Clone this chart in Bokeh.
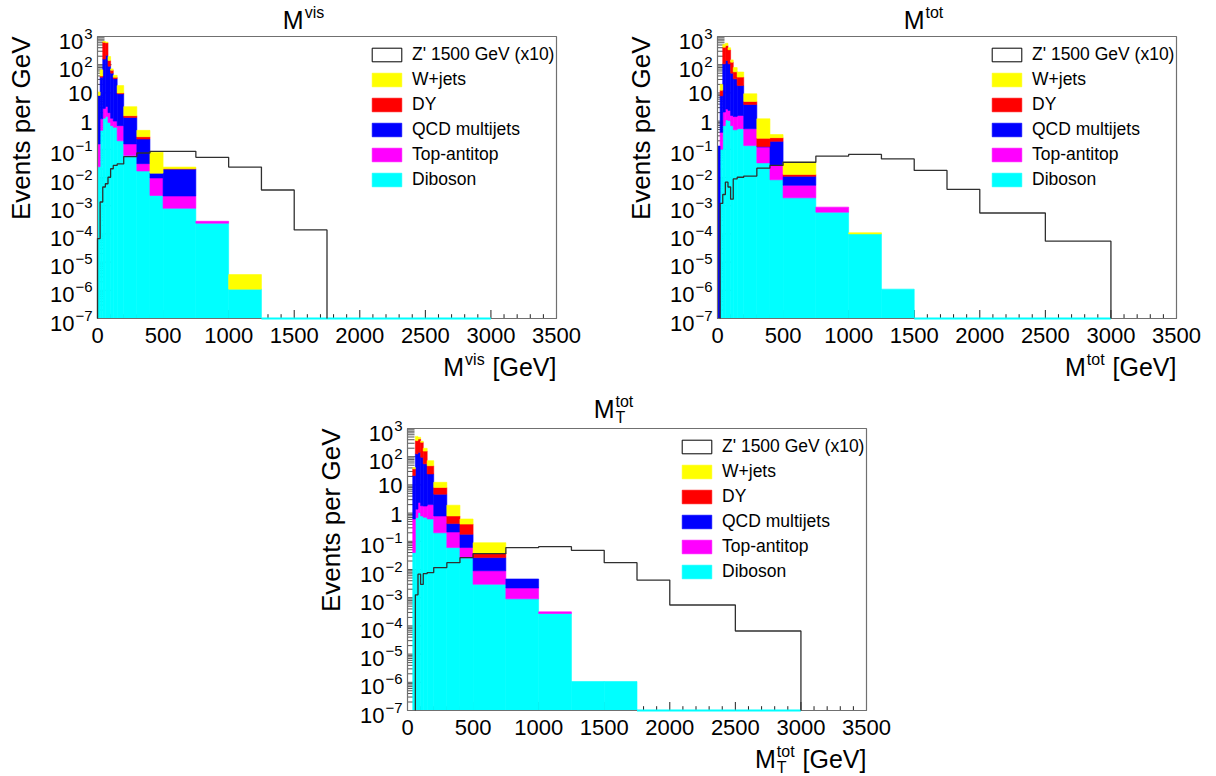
import numpy as np
from math import pi
from bokeh.plotting import figure
from bokeh.models import Range1d, Label, Legend, LegendItem, Spacer
from bokeh.layouts import column, row
from bokeh.embed import file_html
from bokeh.resources import INLINE

# ---------------- data (events per GeV) ----------------
edges = [0, 20, 40, 60, 80, 100, 120, 150, 200, 300, 400, 500, 750, 1000,
         1250, 1500, 1750, 2000, 2500, 3000]
x_ticks = [0, 500, 1000, 1500, 2000, 2500, 3000, 3500]
y_decades = [-7, -6, -5, -4, -3, -2, -1, 0, 1, 2, 3]
legend_labels = ["Z' 1500 GeV (x10)", "W+jets", "DY", "QCD multijets", "Top-antitop", "Diboson"]

# M^vis
mvis_diboson = [0.024, 0.47, 1.26, 1.45, 0.89, 0.69, 0.60, 0.20, 0.060, 0.017, 0.0023, 0.00081, 0.00024, 1.1e-6, 0, 0, 0, 0, 0]
mvis_top     = [0.13, 0.73, 1.56, 1.86, 1.1, 0.57, 0.40, 0.49, 0.095, 0.014, 0.0073, 0.0014, 0.00004, 0, 0, 0, 0, 0, 0]
mvis_qcd     = [8.0, 35, 155, 211, 87, 49, 31, 8.6, 1.2, 0.20, 0.0046, 0.018, 0, 0, 0, 0, 0, 0, 0]
mvis_dy      = [0, 3.5, 473, 389, 52, 13, 3.9, 0.67, 0.20, 0.048, 0, 0.0002, 0, 0, 0, 0, 0, 0, 0]
mvis_wjets   = [2.6, 26, 30, 28, 54, 7.8, 6.2, 8.2, 1.7, 0.19, 0.065, 0.003, 0, 2.5e-6, 0, 0, 0, 0, 0]
mvis_zprime  = [6.8e-5, 1.35e-3, 4.6e-3, 6.0e-3, 0.0102, 0.0204, 0.0269, 0.0302, 0.055, 0.074, 0.085, 0.085, 0.052, 0.0234, 0.0036, 0.000138, 0, 0, 0]

# M^tot
mtot_diboson = [0, 0.10, 0.69, 1.10, 1.05, 0.69, 0.49, 0.54, 0.135, 0.033, 0.0083, 0.0019, 0.00059, 0.0001, 1.1e-6, 0, 0, 0, 0]
mtot_top     = [0, 0.30, 1.4, 1.59, 1.35, 0.89, 0.96, 1.04, 0.40, 0.087, 0.019, 0.0034, 0.0003, 0, 0, 0, 0, 0, 0]
mtot_qcd     = [0.13, 7.5, 105, 138, 105, 48.5, 30, 16.6, 3.35, 0.006, 0.164, 0.0057, 0, 0, 0, 0, 0, 0, 0]
mtot_dy      = [0, 4.6, 310, 338, 232, 73, 24.6, 18.1, 1.12, 0.119, 0.067, 0.0019, 0, 0, 0, 0, 0, 0, 0]
mtot_wjets   = [0, 7.4, 108, 96, 59, 25, 23, 18.7, 4.3, 0.96, 0.074, 0.022, 0, 0.00001, 0, 0, 0, 0, 0]
mtot_zprime  = [0, 1.2e-3, 2.5e-3, 6.8e-3, 4.6e-3, 1.7e-3, 8.9e-3, 0.0102, 0.0112, 0.0214, 0.0269, 0.0347, 0.0575, 0.066, 0.0457, 0.0178, 0.0038, 0.00055, 0.000055]

# M_T^tot
mttot_diboson = [0, 0, 0.040, 0.69, 1.05, 0.79, 0.71, 0.62, 0.20, 0.060, 0.026, 0.0030, 0.00091, 0.000275, 1.07e-6, 1.07e-6, 0, 0, 0]
mttot_top     = [0, 0, 0.58, 0.69, 1.35, 1.03, 1.07, 1.38, 0.59, 0.154, 0.034, 0.006, 0.0013, 0.00004, 0, 0, 0, 0, 0]
mttot_qcd     = [0, 0, 20.8, 125, 142, 94, 54, 22.5, 3.9, 0.21, 0.118, 0.0174, 0.0024, 0, 0, 0, 0, 0, 0]
mttot_dy      = [0, 0, 15.8, 246, 282, 228, 102, 23.4, 3.45, 0.37, 0.23, 0.0117, 0, 0, 0, 0, 0, 0, 0]
mttot_wjets   = [0, 0, 4.5, 153, 63, 31, 41, 24.5, 4.2, 1.11, 0.21, 0.051, 0, 0, 0, 0, 0, 0, 0]
mttot_zprime  = [0, 0, 0, 1.26e-3, 6.8e-3, 2.95e-3, 7.1e-3, 7.8e-3, 0.0117, 0.0174, 0.0263, 0.0363, 0.060, 0.0646, 0.0479, 0.0174, 0.0042, 0.00055, 0.000066]

# ---------------- style ----------------
FONT = "Liberation Sans"
X_MIN, X_MAX = 0, 3500
Y_MIN, Y_MAX = 1e-7, 1e3
FRAME_W, FRAME_H = 459, 282
MID = 0.35  # distance from the alphabetic baseline up to the middle of the text box, in em
COL = {"wjets": "#ffff00", "dy": "#ff0000", "qcd": "#0000ff", "top": "#ff00ff", "diboson": "#00ffff"}
CW = {"M": 0.833, "v": 0.5, "i": 0.222, "s": 0.5, "t": 0.278, "o": 0.556, "T": 0.611, " ": 0.278,
      "[": 0.278, "]": 0.278, "G": 0.778, "e": 0.556, "V": 0.667, "\u2212": 0.584, "-": 0.333}


def text_w(s, size):
    return sum(CW.get(c, 0.556) for c in s) * size


def add_label(p, text, x, y, xo, yo, size, align="left", baseline="middle", angle=0.0):
    p.add_layout(Label(x=x, y=y, x_offset=xo, y_offset=yo, text=text, angle=angle,
                       text_font=FONT, text_font_size=f"{size}px", text_color="black",
                       text_align=align, text_baseline=baseline))


def compose(p, parts, x, y, xo, yo, align="left"):
    """parts: groups of (text, size, rise) laid out left to right; yo is the baseline offset."""
    widths = [max(text_w(t, s) for t, s, r in grp) for grp in parts]
    total = sum(widths) + 1.0 * (len(parts) - 1)
    cur = xo if align == "left" else (xo - total if align == "right" else xo - total / 2)
    for grp, w in zip(parts, widths):
        for t, s, r in grp:
            lead = len(t) - len(t.lstrip(" "))
            add_label(p, t.lstrip(" "), x, y, cur + text_w(" " * lead, s), yo + r + MID * s, s)
        cur += w + 1.0


def make_panel(width, height, left, top, series, zprime, title_parts, xtitle_parts, title_rise):
    right = width - left - FRAME_W
    bottom = height - top - FRAME_H
    gx = FRAME_W / (X_MAX - X_MIN)            # px per GeV
    dec = FRAME_H / np.log10(Y_MAX / Y_MIN)   # px per decade
    # the whole pad is the Bokeh frame; the ROOT frame is the [X_MIN,X_MAX]x[Y_MIN,Y_MAX] box in it
    xr = Range1d(X_MIN - left / gx, X_MAX + right / gx)
    yr = Range1d(Y_MIN / 10 ** (bottom / dec), Y_MAX * 10 ** (top / dec))
    p = figure(width=width, height=height, x_range=xr, y_range=yr, y_axis_type="log",
               x_axis_location=None, y_axis_location=None,
               output_backend="svg", toolbar_location=None, title=None, min_border=0)
    p.grid.visible = False
    p.outline_line_color = None
    p.background_fill_color = "white"
    p.border_fill_color = "white"

    # inward ticks (drawn first, hidden by the filled stack like in ROOT)
    xmaj = x_ticks
    xmin_t = [v for v in range(0, X_MAX + 1, 100) if v % 500]
    p.segment(x0=xmaj, y0=[Y_MIN] * len(xmaj), x1=xmaj, y1=[Y_MIN * 10 ** (8.5 / dec)] * len(xmaj),
              line_color="#222222", line_width=1)
    p.segment(x0=xmin_t, y0=[Y_MIN] * len(xmin_t), x1=xmin_t, y1=[Y_MIN * 10 ** (4.3 / dec)] * len(xmin_t),
              line_color="#222222", line_width=1)
    ymaj = [10.0 ** k for k in y_decades]
    ymin_t = [m * 10.0 ** k for k in y_decades[:-1] for m in range(2, 10)]
    p.segment(x0=[X_MIN] * len(ymaj), y0=ymaj, x1=[14 / gx] * len(ymaj), y1=ymaj, line_color="#555555", line_width=1)
    p.segment(x0=[X_MIN] * len(ymin_t), y0=ymin_t, x1=[7 / gx] * len(ymin_t), y1=ymin_t, line_color="#555555", line_width=1)

    lefts = np.array(edges[:-1], dtype=float)
    rights = np.array(edges[1:], dtype=float)
    cum = np.zeros(len(lefts))
    rends = {}
    for key in ["diboson", "top", "qcd", "dy", "wjets"]:
        vals = np.array(series[key], dtype=float)
        bot = cum.copy()
        tp = cum + vals
        m = vals > 0
        rends[key] = p.quad(left=lefts[m], right=rights[m], bottom=np.maximum(bot, Y_MIN)[m], top=tp[m],
                            fill_color=COL[key], line_color=COL[key], line_width=0.6)
        cum = tp

    # frame
    p.quad(left=[X_MIN], right=[X_MAX], bottom=[Y_MIN], top=[Y_MAX], fill_alpha=0,
           line_color="#707070", line_width=1.2)

    # empty bins are drawn by ROOT as a hairline along the lower edge
    nz = np.nonzero(cum > 0)[0]
    last = nz[-1] if len(nz) else -1
    tail_l = lefts[last + 1:]
    tail_r = rights[last + 1:]
    if len(tail_l):
        p.segment(x0=tail_l, y0=[Y_MIN] * len(tail_l), x1=tail_r, y1=[Y_MIN] * len(tail_l),
                  line_color=COL["diboson"], line_width=2)

    # signal outline
    zv = np.array(zprime, dtype=float)
    nzz = np.nonzero(zv > 0)[0]
    i0, i1 = nzz[0], nzz[-1]
    xs = [edges[i0]]
    ys = [Y_MIN]
    for i in range(i0, i1 + 1):
        v = max(zv[i], Y_MIN)
        xs += [edges[i], edges[i + 1]]
        ys += [v, v]
    xs.append(edges[i1 + 1])
    ys.append(Y_MIN)
    p.line(xs, ys, line_color="#303030", line_width=1.3)

    # legend (hollow box proxy for the signal, placed below the visible pad)
    proxy_y = yr.start / 100
    dummy = p.quad(left=[edges[0]], right=[edges[1]], bottom=[proxy_y], top=[proxy_y],
                   fill_color="white", line_color="black", line_width=1)
    order = [dummy, rends["wjets"], rends["dy"], rends["qcd"], rends["top"], rends["diboson"]]
    items = [LegendItem(label=l, renderers=[r]) for l, r in zip(legend_labels, order)]
    leg = Legend(items=items, location=(left + 271, bottom + 128), orientation="vertical",
                 glyph_width=37, glyph_height=17, label_height=17, label_standoff=7,
                 spacing=4, padding=0, margin=0, border_line_alpha=0, background_fill_alpha=0,
                 label_text_font=FONT, label_text_font_size="17.5px", label_text_color="black")
    p.add_layout(leg)

    # x tick labels
    for v in x_ticks:
        add_label(p, str(v), v, Y_MIN, 0, -16.5, 22, align="center")

    # y tick labels
    for k in y_decades:
        yv = 10.0 ** k
        if k == 0 or k == 1:
            add_label(p, "1" if k == 0 else "10", X_MIN, yv, -5, -1, 22, align="right")
        else:
            ex = str(k).replace("-", "\u2212")
            ew = text_w(ex, 15)
            add_label(p, ex, X_MIN, yv, -5, 3, 15, align="right")
            add_label(p, "10", X_MIN, yv, -5 - ew - 1, -4.5, 22, align="right")

    # axis titles and pad title
    add_label(p, "Events per GeV", X_MIN, Y_MAX, -67 - MID * 26, 0, 26, align="right", angle=pi / 2)
    compose(p, xtitle_parts, X_MAX, Y_MIN, 0, -57, align="right")
    compose(p, title_parts, X_MIN, Y_MAX, 206, title_rise, align="center")
    return p


p1 = make_panel(620, 392, 97, 36,
                dict(diboson=mvis_diboson, top=mvis_top, qcd=mvis_qcd, dy=mvis_dy, wjets=mvis_wjets),
                mvis_zprime,
                [[("M", 25, 0)], [("vis", 16, 10)]],
                [[("M", 25, 0)], [("vis", 16, 10)], [(" [GeV]", 25, 0)]], 8)
p2 = make_panel(596, 392, 97, 36,
                dict(diboson=mtot_diboson, top=mtot_top, qcd=mtot_qcd, dy=mtot_dy, wjets=mtot_wjets),
                mtot_zprime,
                [[("M", 25, 0)], [("tot", 16, 10)]],
                [[("M", 25, 0)], [("tot", 16, 10)], [(" [GeV]", 25, 0)]], 8)
p3 = make_panel(620, 384, 97, 36,
                dict(diboson=mttot_diboson, top=mttot_top, qcd=mttot_qcd, dy=mttot_dy, wjets=mttot_wjets),
                mttot_zprime,
                [[("M", 25, 0)], [("tot", 16, 10), ("T", 16, -6)]],
                [[("M", 25, 0)], [("tot", 16, 10), ("T", 16, -6)], [(" [GeV]", 25, 0)]], 11)

layout = column(row(p1, p2), row(Spacer(width=310, height=384), p3))
open("out.html", "w").write(file_html(layout, INLINE))
